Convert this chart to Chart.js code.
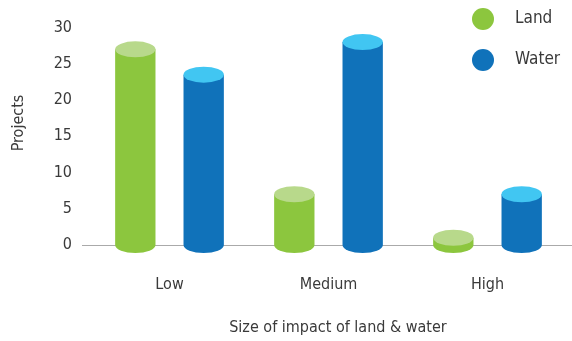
<!DOCTYPE html>
<html>
<head>
<meta charset="utf-8">
<script src="https://cdn.jsdelivr.net/npm/chart.js@4"></script>
<style>
  html, body { margin: 0; padding: 0; background: #fff; }
  #wrap { width: 572px; height: 341px; }
</style>
</head>
<body>
<div id="wrap"><canvas id="myChart" width="572" height="341"></canvas></div>
<script>
const categorias = ['Low', 'Medium', 'High'];
const valoresLand = [27, 7, 1];
const valoresWater = [23.5, 28, 7];
const ticksY = [0, 5, 10, 15, 20, 25, 30];

const fuente = '"DejaVu Sans Condensed", "Roboto", sans-serif';
const colorTexto = '#3a3a3a';

const series = [
  { label: 'Land', data: valoresLand, cuerpo: '#8cc63e', tapa: '#b8d98b' },
  { label: 'Water', data: valoresWater, cuerpo: '#1072ba', tapa: '#41c6f2' }
];

// dibuja cilindros sobre las barras (transparentes) y los textos sueltos
const cilindros = {
  id: 'cilindros',
  beforeDatasetsDraw(chart) {
    const ctx = chart.ctx;
    const area = chart.chartArea;
    ctx.save();
    ctx.strokeStyle = '#aaaaaa';
    ctx.lineWidth = 1.2;
    ctx.beginPath();
    ctx.moveTo(82, area.bottom + 0.5);
    ctx.lineTo(chart.width, area.bottom + 0.5);
    ctx.stroke();
    ctx.restore();
  },
  afterDatasetsDraw(chart) {
    const ctx = chart.ctx;
    const ry = 8;
    ctx.save();
    chart.data.datasets.forEach((ds, i) => {
      const meta = chart.getDatasetMeta(i);
      meta.data.forEach(bar => {
        const rx = bar.width / 2;
        const x = bar.x, top = bar.y, base = bar.base;
        ctx.fillStyle = ds.cuerpo;
        ctx.beginPath();
        ctx.ellipse(x, base, rx, ry, 0, 0, Math.PI);
        ctx.lineTo(x - rx, top);
        ctx.lineTo(x + rx, top);
        ctx.closePath();
        ctx.fill();
        ctx.fillStyle = ds.tapa;
        ctx.beginPath();
        ctx.ellipse(x, top, rx, ry, 0, 0, Math.PI * 2);
        ctx.fill();
      });
    });

    // leyenda
    ctx.font = '17px ' + fuente;
    ctx.textBaseline = 'middle';
    ctx.textAlign = 'left';
    chart.data.datasets.forEach((ds, i) => {
      const y = 19 + i * 41;
      ctx.fillStyle = ds.cuerpo;
      ctx.beginPath();
      ctx.arc(483, y, 11, 0, Math.PI * 2);
      ctx.fill();
      ctx.fillStyle = colorTexto;
      ctx.fillText(ds.label, 515, y);
    });

    // titulos de ejes
    ctx.font = '16px ' + fuente;
    ctx.textAlign = 'center';
    ctx.fillText('Size of impact of land & water', 338, 328);
    ctx.translate(19, 123);
    ctx.rotate(-Math.PI / 2);
    ctx.fillText('Projects', 0, 0);
    ctx.restore();
  }
};

const ctx = document.getElementById('myChart').getContext('2d');
const myChart = new Chart(ctx, {
  type: 'bar',
  data: {
    labels: categorias,
    datasets: series.map(s => ({
      label: s.label,
      data: s.data,
      cuerpo: s.cuerpo,
      tapa: s.tapa,
      backgroundColor: 'rgba(0,0,0,0)',
      borderWidth: 0,
      categoryPercentage: 0.86,
      barPercentage: 0.59
    }))
  },
  options: {
    responsive: false,
    animation: false,
    layout: { padding: { top: 25, right: 5, left: 0, bottom: 0 } },
    plugins: {
      legend: { display: false },
      tooltip: { enabled: false }
    },
    scales: {
      x: {
        grid: { display: false, drawTicks: false },
        border: { display: false },
        ticks: {
          padding: 30,
          color: colorTexto,
          font: { family: fuente, size: 16 }
        },
        afterFit(scale) { scale.height = 96; }
      },
      y: {
        min: 0,
        max: 30,
        afterBuildTicks(scale) { scale.ticks = ticksY.map(v => ({ value: v })); },
        grid: { display: false, drawTicks: false },
        border: { display: false },
        ticks: {
          padding: 18,
          color: colorTexto,
          font: { family: fuente, size: 16 }
        },
        afterFit(scale) { scale.width = 90; }
      }
    }
  },
  plugins: [cilindros]
});
</script>
</body>
</html>
